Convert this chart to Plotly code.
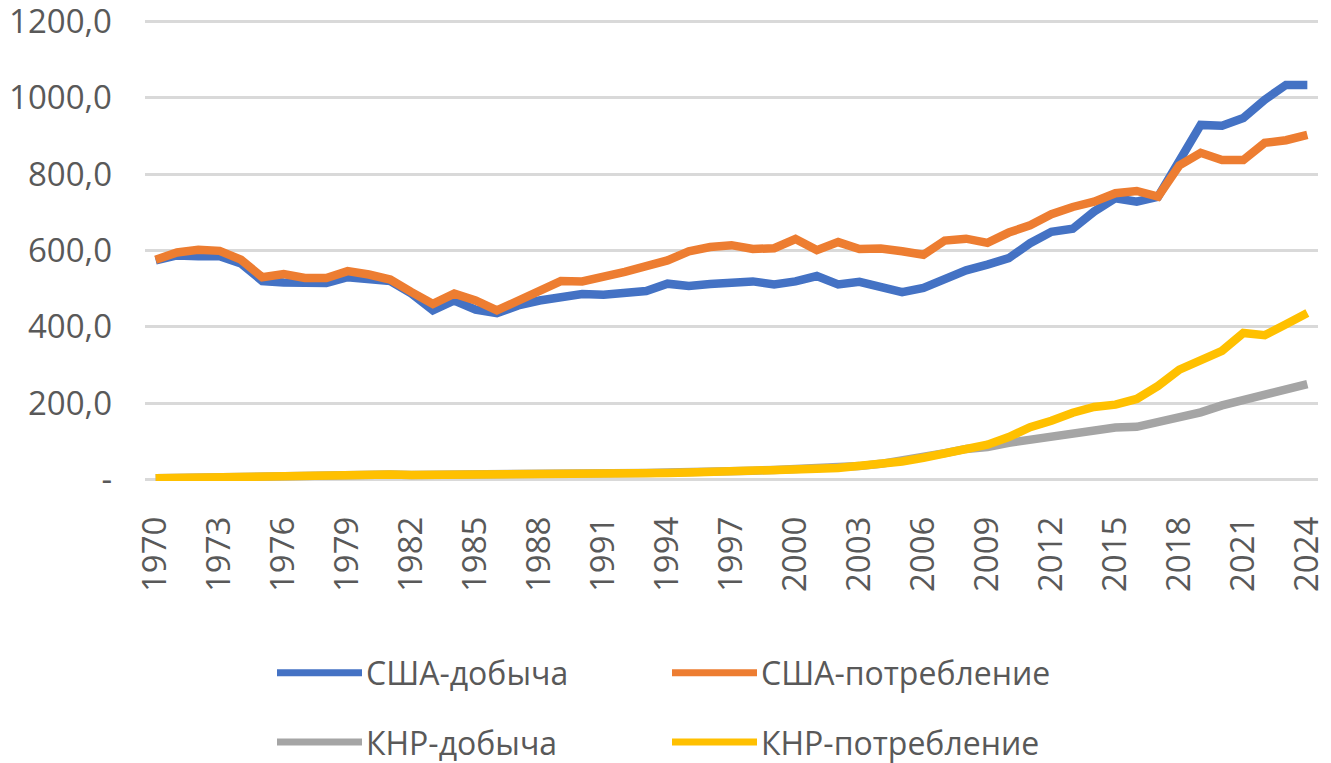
import plotly.graph_objects as go

years = list(range(1970, 2025))

usa_production = [574, 587, 585, 585, 566, 520, 516, 515, 515, 530,
                  524, 520, 487, 443, 469, 445, 436, 456, 469, 476,
                  486, 484, 488, 494, 513, 507, 512, 513, 519, 511,
                  519, 533, 511, 518, 504, 491, 502, 524, 548, 563,
                  580, 619, 649, 657, 702, 737, 728, 741, 837, 929,
                  927, 947, 995, 1034, 1034]

usa_consumption = [576, 595, 602, 599, 576, 530, 538, 528, 528, 546,
                   537, 524, 491, 460, 487, 469, 443, 469, 494, 520,
                   519, 529, 544, 559, 574, 598, 609, 614, 604, 606,
                   630, 601, 622, 604, 605, 598, 589, 626, 631, 620,
                   647, 666, 695, 714, 728, 750, 756, 741, 823, 856,
                   837, 837, 882, 889, 903]

china_production = [3, 4, 5, 6, 7, 9, 10, 12, 14, 15,
                    14, 13, 12, 12, 12, 13, 14, 14, 14, 15,
                    15, 16, 16, 17, 18, 18, 20, 23, 23, 25,
                    27, 30, 33, 35, 41, 49, 59, 69, 80, 85,
                    96, 105, 112, 123, 131, 136, 138, 149, 161, 176,
                    194, 208, 221, 233, 250]

china_consumption = [3, 4, 5, 6, 7, 9, 10, 12, 14, 15,
                     14, 13, 12, 12, 12, 13, 14, 14, 14, 15,
                     15, 16, 16, 17, 17, 18, 19, 20, 20, 22,
                     25, 28, 30, 34, 40, 47, 57, 70, 81, 91,
                     111, 137, 154, 175, 190, 196, 211, 245, 288, 314,
                     337, 384, 378, 407, 436]

series_names = ["США-добыча", "США-потребление", "КНР-добыча", "КНР-потребление"]
series_colors = ["#4472C4", "#ED7D31", "#A5A5A5", "#FFC000"]
series_values = [usa_production, usa_consumption, china_production, china_consumption]

x_tick_years = list(range(1970, 2025, 3))
y_tick_values = [0, 200, 400, 600, 800, 1000, 1200]
y_tick_labels = ["-", "200,0", "400,0", "600,0", "800,0", "1000,0", "1200,0"]

# page has an 8px body margin: work in reference page pixels, then shift
OFF = 8
W, H = 1331 - OFF, 763 - OFF
Y_PAD = 4  # value units of padding so the edge gridlines are kept
PLOT_L, PLOT_R = 145 - OFF, 1318 - OFF
Y0_PX, Y1200_PX = 479 - OFF, 22 - OFF
unit_px = (Y0_PX - Y1200_PX) / 1200.0
top_px = Y1200_PX - Y_PAD * unit_px
bot_px = Y0_PX + Y_PAD * unit_px
ML, MR = PLOT_L, W - PLOT_R
MT, MB = top_px, H - bot_px
PW, PH = W - ML - MR, H - MT - MB
FONT = "Open Sans"
TXT = "#595959"
FS = 33
FS_LEG = 32

fig = go.Figure()
for name, color, vals in zip(series_names, series_colors, series_values):
    fig.add_trace(go.Scatter(
        x=years, y=vals, name=name, mode="lines",
        line=dict(color=color, width=8.5),
        showlegend=False, hoverinfo="skip",
    ))

def px_to_paper(px, py):
    px -= OFF
    py -= OFF
    return (px - ML) / PW, (H - MB - py) / PH

# custom legend (2 x 2 grid) to mimic the long line samples
legend_pos = [(277, 672), (672, 672), (277, 741), (672, 741)]
for (lx, ly), name, color in zip(legend_pos, series_names, series_colors):
    x0, y0 = px_to_paper(lx, ly)
    x1, _ = px_to_paper(lx + 85, ly)
    xt, _ = px_to_paper(lx + 88, ly)
    fig.add_shape(type="line", xref="paper", yref="paper",
                  x0=x0, x1=x1, y0=y0, y1=y0,
                  line=dict(color=color, width=7))
    fig.add_annotation(xref="paper", yref="paper", x=xt, y=y0,
                       text=name, showarrow=False,
                       xanchor="left", yanchor="middle", borderpad=0,
                       font=dict(family=FONT, size=FS_LEG, color=TXT))

fig.update_layout(
    width=W, height=H,
    margin=dict(l=ML, r=MR, t=MT, b=MB, pad=0, autoexpand=False),
    paper_bgcolor="white", plot_bgcolor="white",
    font=dict(family=FONT, size=FS, color=TXT),
    hovermode=False,
    showlegend=False,
)
fig.update_xaxes(
    range=[1969.5, 2024.5], automargin=False,
    tickmode="array", tickvals=x_tick_years,
    ticktext=[str(y) for y in x_tick_years],
    tickangle=-90, showgrid=False, zeroline=False, showline=False,
    ticks="", ticklabelstandoff=28, ticklabeloverflow="allow",
    tickfont=dict(family=FONT, size=FS, color=TXT),
)
fig.update_yaxes(
    range=[-Y_PAD, 1200 + Y_PAD], automargin=False,
    tickmode="array", tickvals=y_tick_values, ticktext=y_tick_labels,
    showgrid=True, gridcolor="#D9D9D9", gridwidth=2.5,
    zeroline=False, showline=False, ticks="", ticklabelstandoff=32,
    ticklabeloverflow="allow",
    tickfont=dict(family=FONT, size=FS, color=TXT),
)

fig.write_html("out.html")
